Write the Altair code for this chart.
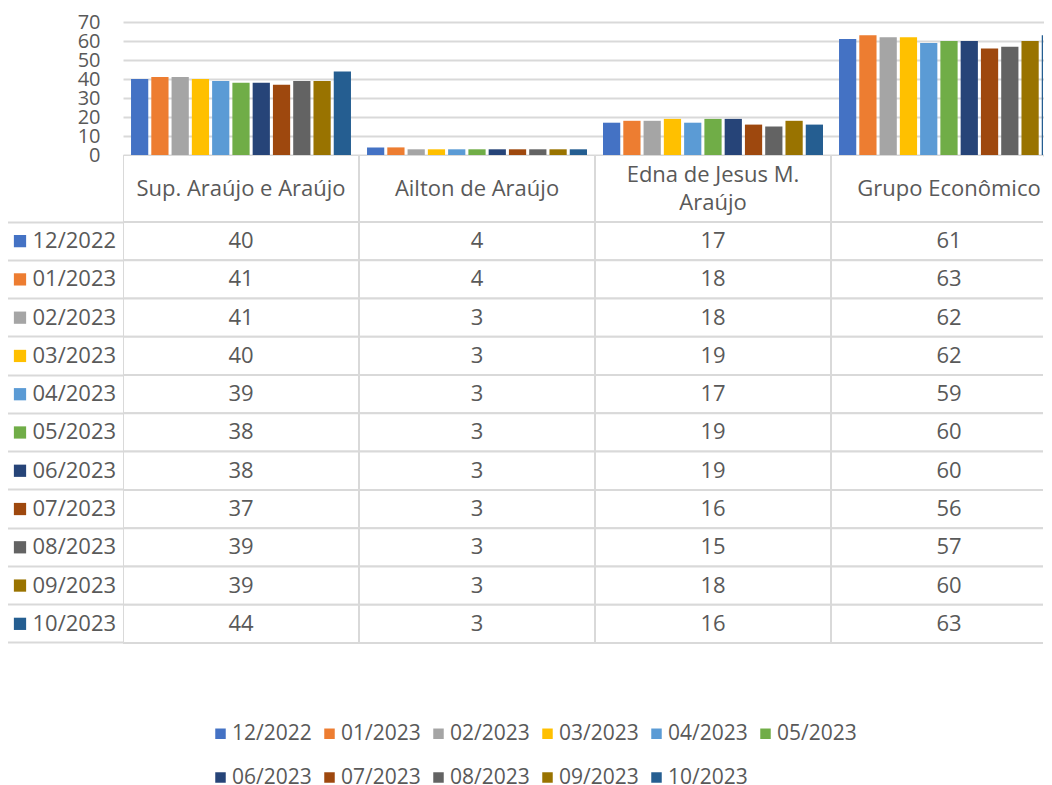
import altair as alt
import pandas as pd

# ---------------- data ----------------
categories = ["Sup. Araújo e Araújo", "Ailton de Araújo", "Edna de Jesus M. Araújo", "Grupo Econômico"]
header_labels = ["Sup. Araújo e Araújo", "Ailton de Araújo", "Edna de Jesus M.\nAraújo", "Grupo Econômico"]
series = ["12/2022", "01/2023", "02/2023", "03/2023", "04/2023", "05/2023",
          "06/2023", "07/2023", "08/2023", "09/2023", "10/2023"]
sup_araujo = [40, 41, 41, 40, 39, 38, 38, 37, 39, 39, 44]
ailton = [4, 4, 3, 3, 3, 3, 3, 3, 3, 3, 3]
edna = [17, 18, 18, 19, 17, 19, 19, 16, 15, 18, 16]
grupo = [61, 63, 62, 62, 59, 60, 60, 56, 57, 60, 63]
y_ticks = [0, 10, 20, 30, 40, 50, 60, 70]

colors = ["#4472C4", "#ED7D31", "#A5A5A5", "#FFC000", "#5B9BD5", "#70AD47",
          "#264478", "#9E480E", "#636363", "#997300", "#255E91"]

rows = []
for cat, vals in zip(categories, [sup_araujo, ailton, edna, grupo]):
    for s, v in zip(series, vals):
        rows.append({"category": cat, "series": s, "value": v})
df = pd.DataFrame(rows)

hrows = []
for cat, lab in zip(categories, header_labels):
    parts = lab.split("\n")
    n = len(parts)
    for i, p in enumerate(parts):
        hrows.append({"category": cat, "text": p, "pos": (n - 1) / 2 - i})
header_df = pd.DataFrame(hrows)
cat_df = pd.DataFrame({"category": categories})
series_df = pd.DataFrame({"series": series})

# ---------------- style ----------------
FONT = "Open Sans"
GRAY = "#595959"
GRID = "#d9d9d9"
CAT_W = 236
PLOT_W = 920
ROW_H = 38.27
LABEL_COL = 116
HEADER_H = 67
LINE_H = 28

x_bar = alt.Scale(domain=categories, range=[0, 4 * CAT_W], paddingInner=0.068, paddingOuter=0.034)
x_tab = alt.Scale(domain=categories, range=[0, 4 * CAT_W], paddingInner=0, paddingOuter=0)
color_scale = alt.Scale(domain=series, range=colors)
row_domain = series + [" "]
y_tab = alt.Scale(domain=row_domain, paddingInner=0, paddingOuter=0)

# ---------------- bar chart ----------------
bars = alt.Chart(df).mark_bar(clip=True).encode(
    x=alt.X("category:N", scale=x_bar, axis=None),
    xOffset=alt.XOffset("series:N", scale=alt.Scale(domain=series, paddingInner=0.15, paddingOuter=0)),
    y=alt.Y("value:Q", scale=alt.Scale(domain=[0, 70], nice=False),
            axis=alt.Axis(values=y_ticks, title=None, labelFontSize=20, labelColor=GRAY,
                          labelFont=FONT, labelPadding=23, ticks=False, domain=False,
                          labelOverlap=False, gridColor=GRID, gridWidth=2)),
    color=alt.Color("series:N", scale=color_scale, legend=None),
).properties(width=PLOT_W, height=133)

# ---------------- table header ----------------
header_cells = alt.Chart(cat_df).mark_rect(fill="white", stroke=GRID, strokeWidth=2, clip=True).encode(
    x=alt.X("category:N", scale=x_tab, axis=None),
)
half = HEADER_H / LINE_H / 2
header_text = alt.Chart(header_df).mark_text(font=FONT, fontSize=22, color=GRAY, baseline="middle").encode(
    x=alt.X("category:N", scale=x_tab, axis=None),
    y=alt.Y("pos:Q", scale=alt.Scale(domain=[-half, half], nice=False, zero=False), axis=None),
    text="text:N",
)
header = alt.layer(header_cells, header_text).properties(width=PLOT_W, height=HEADER_H)

# ---------------- table body ----------------
cells = alt.Chart(df).mark_rect(fill="white", stroke=GRID, strokeWidth=2, clip=True).encode(
    x=alt.X("category:N", scale=x_tab, axis=None),
    y=alt.Y("series:N", scale=y_tab,
            axis=alt.Axis(title=None, bandPosition=0, tickSize=LABEL_COL,
                          tickColor=GRID, tickWidth=2, domain=False, grid=False,
                          labelAlign="left", labelPadding=-25, labelFontSize=22,
                          labelFont=FONT, labelColor=GRAY)),
)
values = alt.Chart(df).mark_text(font=FONT, fontSize=22, color=GRAY).encode(
    x=alt.X("category:N", scale=x_tab, axis=None),
    y=alt.Y("series:N", scale=y_tab),
    text="value:Q",
)
swatches = alt.Chart(series_df).mark_point(shape="square", filled=True, size=150, opacity=1).encode(
    x=alt.value(-103),
    y=alt.Y("series:N", scale=y_tab),
    color=alt.Color("series:N", scale=color_scale,
                    legend=alt.Legend(orient="none", legendX=87, legendY=501, direction="horizontal",
                                      columns=6, symbolType="square", symbolSize=110,
                                      labelFontSize=21, labelFont=FONT, labelColor=GRAY,
                                      labelOffset=1, columnPadding=7, rowPadding=22,
                                      title=None, symbolStrokeWidth=0, padding=0)),
)
left_border = alt.Chart(series_df.head(1)).mark_rule(color=GRID, strokeWidth=2).encode(
    x=alt.value(-LABEL_COL), y=alt.value(0), y2=alt.value(11 * ROW_H),
)
body = alt.layer(cells, values, swatches, left_border).properties(width=PLOT_W, height=12 * ROW_H)

chart = alt.vconcat(bars, header, body, spacing=0, bounds="flush").resolve_scale(
    color="independent", x="independent", y="independent"
).properties(
    padding={"left": -3, "top": 3, "right": 0, "bottom": 0}
).configure_view(stroke="transparent")

chart.save("out.html", embed_options={"renderer": "svg", "actions": False})
